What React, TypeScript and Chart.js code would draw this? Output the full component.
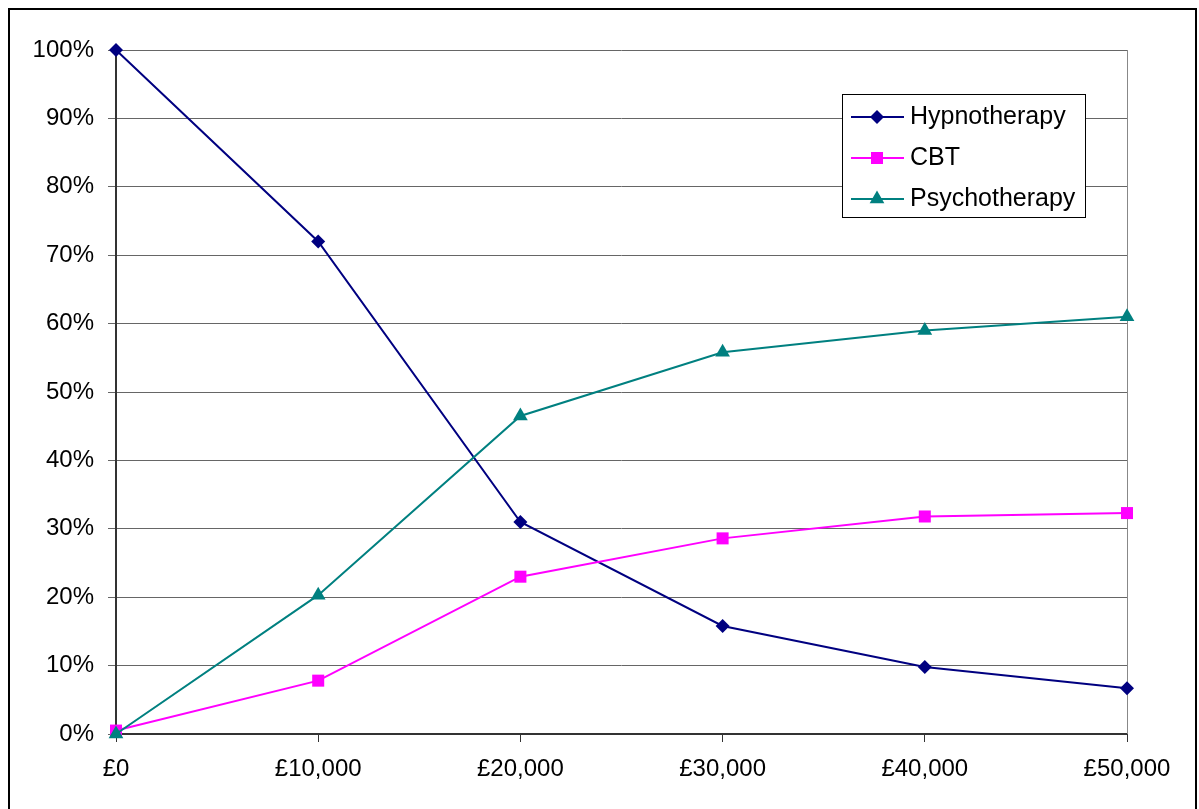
import React, { useEffect, useRef } from "react";
import { Chart, registerables } from "chart.js";

Chart.register(...registerables);

const categories = ["£0", "£10,000", "£20,000", "£30,000", "£40,000", "£50,000"];
const hypnotherapy = [100, 72, 31, 15.8, 9.8, 6.7];
const cbt = [0.5, 7.8, 23, 28.6, 31.8, 32.3];
const psychotherapy = [0, 20.3, 46.5, 55.8, 59, 61];
const seriesNames = ["Hypnotherapy", "CBT", "Psychotherapy"];
const yMin = 0;
const yMax = 100;
const yStep = 10;

const FONT = "'Liberation Sans', Arial, sans-serif";
const FS = 24;
const LEGEND_FS = 25;
const W = 1199;
const H = 809;

function drawMarker(ctx: CanvasRenderingContext2D, style: string, x: number, y: number, r: number, color: string) {
  ctx.save();
  ctx.fillStyle = color;
  ctx.beginPath();
  if (style === "rectRot") {
    ctx.moveTo(x, y - r);
    ctx.lineTo(x + r, y);
    ctx.lineTo(x, y + r);
    ctx.lineTo(x - r, y);
  } else if (style === "rect") {
    const s = r * Math.SQRT1_2;
    ctx.rect(x - s, y - s, 2 * s, 2 * s);
  } else {
    const a = (Math.PI * 2) / 3;
    for (let i = 0; i < 3; i++) {
      const ang = i * a;
      const px = x + Math.sin(ang) * r;
      const py = y - Math.cos(ang) * r;
      if (i === 0) ctx.moveTo(px, py);
      else ctx.lineTo(px, py);
    }
  }
  ctx.closePath();
  ctx.fill();
  ctx.restore();
}

const framePlugin = {
  id: "frame",
  beforeDatasetsDraw(chart: any) {
    const { ctx, chartArea } = chart;
    const { left, right, top, bottom } = chartArea;
    ctx.save();
    ctx.strokeStyle = "#888888";
    ctx.lineWidth = 1;
    ctx.beginPath();
    ctx.moveTo(Math.round(right) + 0.5, top);
    ctx.lineTo(Math.round(right) + 0.5, bottom);
    ctx.stroke();
    ctx.strokeStyle = "#333333";
    ctx.lineWidth = 2;
    ctx.beginPath();
    ctx.moveTo(left, top);
    ctx.lineTo(left, bottom + 1);
    ctx.moveTo(left, bottom);
    ctx.lineTo(right, bottom);
    ctx.stroke();
    ctx.restore();
  },
  afterDraw(chart: any) {
    const { ctx } = chart;
    ctx.save();
    ctx.strokeStyle = "#000000";
    ctx.lineWidth = 2;
    ctx.beginPath();
    ctx.moveTo(9, H + 5);
    ctx.lineTo(9, 9);
    ctx.lineTo(1196, 9);
    ctx.lineTo(1196, H + 5);
    ctx.stroke();

    const bx = 842, by = 94, bw = 243, bh = 123;
    ctx.fillStyle = "#ffffff";
    ctx.fillRect(bx, by, bw, bh);
    ctx.strokeStyle = "#000000";
    ctx.lineWidth = 1;
    ctx.strokeRect(bx + 0.5, by + 0.5, bw, bh);
    const rows = [117, 158, 199];
    chart.data.datasets.forEach((ds: any, i: number) => {
      const y = rows[i];
      ctx.strokeStyle = ds.borderColor;
      ctx.lineWidth = 2;
      ctx.beginPath();
      ctx.moveTo(851, y);
      ctx.lineTo(904, y);
      ctx.stroke();
      drawMarker(ctx, ds.pointStyle, 877, y, ds.pointRadius, ds.pointBackgroundColor);
      ctx.fillStyle = "#000000";
      ctx.font = `${LEGEND_FS}px ${FONT}`;
      ctx.textBaseline = "middle";
      ctx.textAlign = "left";
      ctx.fillText(ds.label, 910, y);
    });
    ctx.restore();
  },
};

export default function App() {
  const ref = useRef<HTMLCanvasElement | null>(null);

  useEffect(() => {
    if (!ref.current) return;
    const chart = new Chart(ref.current, {
      type: "line",
      data: {
        labels: categories,
        datasets: [
          {
            label: seriesNames[0],
            data: hypnotherapy,
            borderColor: "#000080",
            backgroundColor: "#000080",
            pointBackgroundColor: "#000080",
            pointBorderColor: "#000080",
            pointStyle: "rectRot",
            pointRadius: 7,
            pointBorderWidth: 0,
            borderWidth: 2,
            tension: 0,
            clip: false,
            order: 2,
          },
          {
            label: seriesNames[1],
            data: cbt,
            borderColor: "#FF00FF",
            backgroundColor: "#FF00FF",
            pointBackgroundColor: "#FF00FF",
            pointBorderColor: "#FF00FF",
            pointStyle: "rect",
            pointRadius: 8.5,
            pointBorderWidth: 0,
            borderWidth: 2,
            tension: 0,
            clip: false,
            order: 1,
          },
          {
            label: seriesNames[2],
            data: psychotherapy,
            borderColor: "#008080",
            backgroundColor: "#008080",
            pointBackgroundColor: "#008080",
            pointBorderColor: "#008080",
            pointStyle: "triangle",
            pointRadius: 8.5,
            pointBorderWidth: 0,
            borderWidth: 2,
            tension: 0,
            clip: false,
            order: 0,
          },
        ] as any,
      },
      options: {
        animation: false,
        responsive: false,
        maintainAspectRatio: false,
        devicePixelRatio: 1,
        layout: { padding: { top: 50, right: 72, left: 0, bottom: 0 } },
        plugins: {
          legend: { display: false },
          tooltip: { enabled: false },
          title: { display: false },
        },
        scales: {
          x: {
            offset: false,
            grid: {
              display: true,
              drawOnChartArea: false,
              drawTicks: true,
              tickLength: 8,
              color: "#333333",
              lineWidth: 1,
            },
            border: { display: false },
            ticks: {
              color: "#000000",
              font: { family: FONT, size: FS },
              padding: 13,
              maxRotation: 0,
              autoSkip: false,
            },
            afterFit: (scale: any) => {
              scale.height = H - 734;
            },
          },
          y: {
            min: yMin,
            max: yMax,
            grid: {
              display: true,
              drawOnChartArea: true,
              drawTicks: true,
              tickLength: 8,
              color: "#666666",
              lineWidth: 1,
            },
            border: { display: false },
            ticks: {
              stepSize: yStep,
              color: "#000000",
              font: { family: FONT, size: FS },
              padding: 14,
              callback: (v: any) => `${v}%`,
            },
            afterFit: (scale: any) => {
              scale.width = 116;
            },
          },
        },
      } as any,
      plugins: [framePlugin],
    });
    return () => chart.destroy();
  }, []);

  return (
    <canvas
      ref={ref}
      width={W}
      height={H}
      style={{ position: "fixed", left: 0, top: 0, width: W, height: H, background: "#ffffff" }}
    />
  );
}
